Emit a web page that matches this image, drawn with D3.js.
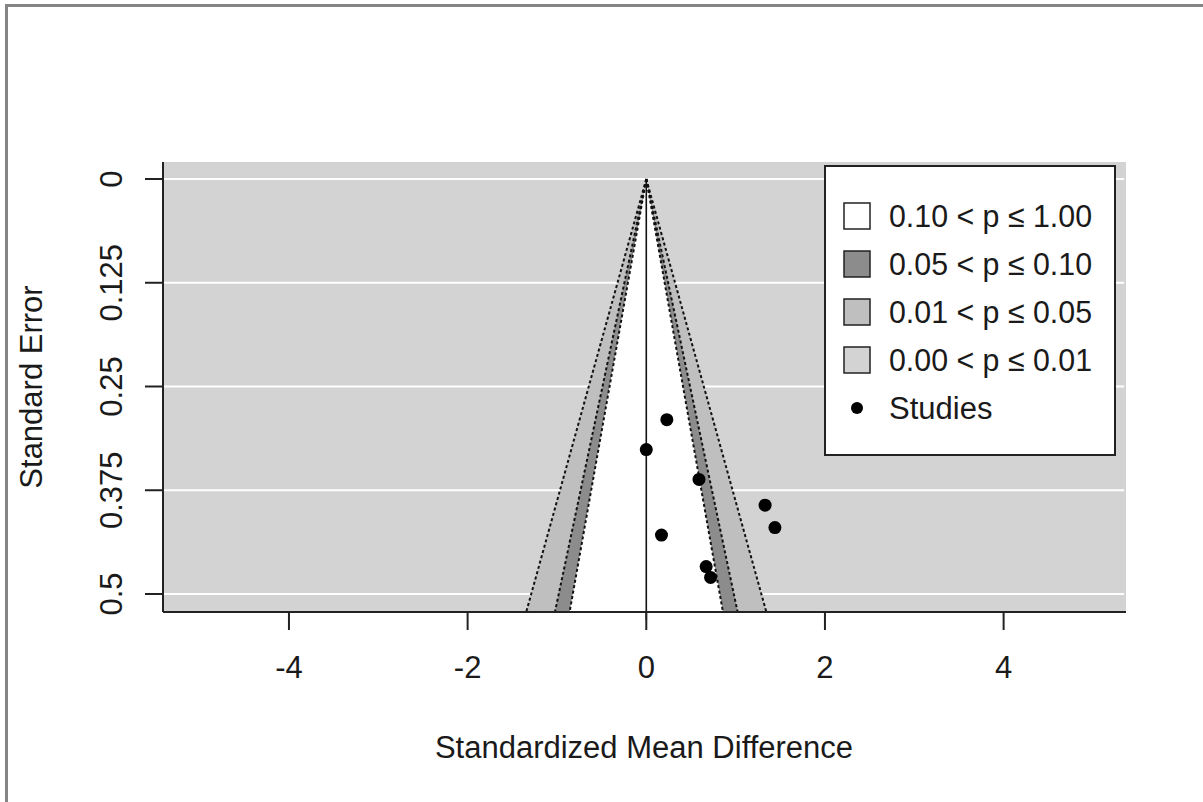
<!DOCTYPE html>
<html><head><meta charset="utf-8">
<script src="https://cdn.jsdelivr.net/npm/d3@7"></script>
<style>body{margin:0;background:#fff}text{font-family:"Liberation Sans",Arial,sans-serif;fill:#1a1a1a}</style>
</head><body><svg id="c" width="1203" height="802"></svg>
<script>
// Data
const studyEffects = [0.23, 0.00, 0.59, 1.33, 1.44, 0.17, 0.67, 0.72];
const studySE      = [0.290, 0.326, 0.362, 0.393, 0.420, 0.429, 0.467, 0.480];
const xTicks = [-4, -2, 0, 2, 4];
const yTicks = [0, 0.125, 0.25, 0.375, 0.5];
const yTickLabels = ["0", "0.125", "0.25", "0.375", "0.5"];
const contourZ = [2.576, 1.960, 1.645];
const contourFill = ["#bfbfbf", "#8c8c8c", "#ffffff"];
const legendLabels = ["0.10 < p \u2264 1.00", "0.05 < p \u2264 0.10", "0.01 < p \u2264 0.05", "0.00 < p \u2264 0.01"];
const legendFills = ["#ffffff", "#8c8c8c", "#bfbfbf", "#d3d3d3"];
const refline = 0;

const FS = 31;
const svg = d3.select("#c");
const L = 163, R = 1126, T = 162, B = 612;
const x = d3.scaleLinear().domain([-5.41, 5.37]).range([L, R]);
const y = d3.scaleLinear().domain([-0.0205, 0.5217]).range([T, B]);
const seMax = y.invert(B);

// outer frame
svg.append("rect").attr("x", 6.5).attr("y", 5.5).attr("width", 1210).attr("height", 810)
  .attr("fill", "none").attr("stroke", "#858585").attr("stroke-width", 3);

// background
svg.append("rect").attr("x", L).attr("y", T).attr("width", R - L).attr("height", B - T).attr("fill", "#d3d3d3");
// grid
svg.selectAll(".grid").data(yTicks).join("line")
  .attr("x1", L).attr("x2", R - 2).attr("y1", d => y(d)).attr("y2", d => y(d))
  .attr("stroke", "#ffffff").attr("stroke-width", 2);

// contour polygons
contourZ.forEach((z, i) => {
  const pts = [[refline, 0], [refline - z * seMax, seMax], [refline + z * seMax, seMax]];
  svg.append("polygon").attr("points", pts.map(p => [x(p[0]), y(p[1])].join(",")).join(" "))
    .attr("fill", contourFill[i]);
});
contourZ.forEach(z => {
  [-1, 1].forEach(s => {
    svg.append("line").attr("x1", x(refline)).attr("y1", y(0))
      .attr("x2", x(refline + s * z * seMax)).attr("y2", y(seMax))
      .attr("stroke", "#111").attr("stroke-width", 2).attr("stroke-dasharray", "3,2.5");
  });
});
// refline
svg.append("line").attr("x1", x(refline)).attr("x2", x(refline)).attr("y1", y(0)).attr("y2", B + 8)
  .attr("stroke", "#111").attr("stroke-width", 1.6);

// points
svg.selectAll(".pt").data(studyEffects).join("circle")
  .attr("cx", d => x(d)).attr("cy", (d, i) => y(studySE[i])).attr("r", 6.5).attr("fill", "#000");

// axes
svg.append("line").attr("x1", L).attr("x2", L).attr("y1", T).attr("y2", B).attr("stroke", "#222").attr("stroke-width", 2);
svg.append("line").attr("x1", L).attr("x2", R).attr("y1", B).attr("y2", B).attr("stroke", "#222").attr("stroke-width", 2);
xTicks.forEach(t => {
  svg.append("line").attr("x1", x(t)).attr("x2", x(t)).attr("y1", B).attr("y2", B + 18).attr("stroke", "#222").attr("stroke-width", 2);
  svg.append("text").attr("x", x(t)).attr("y", 667).attr("dy", "0.35em").attr("text-anchor", "middle")
    .attr("font-size", FS).text(t);
});
yTicks.forEach((t, i) => {
  svg.append("line").attr("x1", L).attr("x2", L - 18).attr("y1", y(t)).attr("y2", y(t)).attr("stroke", "#222").attr("stroke-width", 2);
  svg.append("text").attr("transform", `translate(111,${y(t)}) rotate(-90)`).attr("dy", "0.35em")
    .attr("text-anchor", "middle").attr("font-size", FS).text(yTickLabels[i]);
});
svg.append("text").attr("x", 644).attr("y", 747).attr("dy", "0.35em").attr("text-anchor", "middle")
  .attr("font-size", FS).text("Standardized Mean Difference");
svg.append("text").attr("transform", `translate(31,${(T + B) / 2 - 0}) rotate(-90)`).attr("dy", "0.35em")
  .attr("text-anchor", "middle").attr("font-size", FS).text("Standard Error");

// legend
const lg = svg.append("g");
lg.append("rect").attr("x", 825).attr("y", 166).attr("width", 290).attr("height", 289)
  .attr("fill", "#fff").attr("stroke", "#222").attr("stroke-width", 2);
legendLabels.forEach((lab, i) => {
  const cy = 216 + i * 48;
  lg.append("rect").attr("x", 844).attr("y", cy - 13).attr("width", 26).attr("height", 26)
    .attr("fill", legendFills[i]).attr("stroke", "#222").attr("stroke-width", 1.5);
  lg.append("text").attr("x", 889).attr("y", cy).attr("dy", "0.35em").attr("font-size", FS)
    .attr("textLength", 203).attr("lengthAdjust", "spacingAndGlyphs").text(lab);
});
lg.append("circle").attr("cx", 857).attr("cy", 408).attr("r", 6).attr("fill", "#000");
lg.append("text").attr("x", 889).attr("y", 408).attr("dy", "0.35em").attr("font-size", FS).text("Studies");
</script></body></html>
